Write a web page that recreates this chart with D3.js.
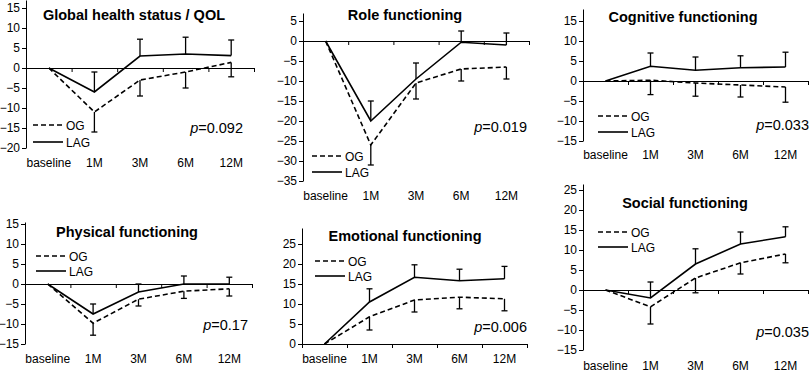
<!DOCTYPE html>
<html>
<head>
<meta charset="utf-8">
<script src="https://cdn.jsdelivr.net/npm/d3@7"></script>
<style>
body { margin: 0; background: #fff; }
text { font-family: "Liberation Sans", Arial, sans-serif; fill: #000; }
</style>
</head>
<body>
<svg id="chart" width="812" height="373"></svg>
<script>
var categories = ["baseline", "1M", "3M", "6M", "12M"];
var seriesNames = ["OG", "LAG"];

// Global health status / QOL
var globalOG = [0, -11, -3, -1, 1.4];
var globalOGLow = [null, -16, -7, -5, -2.2];
var globalLAG = [0, -6, 3, 3.5, 3.1];
var globalLAGHigh = [null, -1, 7.2, 7.7, 7];
var globalTicks = [-20, -15, -10, -5, 0, 5, 10, 15];

// Role functioning
var roleOG = [0, -26, -10.5, -7, -6.5];
var roleOGLow = [null, -31, -14.5, -10, -9.5];
var roleLAG = [0, -20, -9.5, -0.3, -1];
var roleLAGHigh = [null, -15, -5.5, 2.5, 2];
var roleTicks = [-35, -30, -25, -20, -15, -10, -5, 0, 5];

// Cognitive functioning
var cognOG = [0, 0.2, -0.5, -1, -1.5];
var cognOGLow = [null, -3.4, -3.8, -4, -5.3];
var cognLAG = [0, 3.7, 2.7, 3.3, 3.5];
var cognLAGHigh = [null, 7, 6, 6.3, 7.2];
var cognTicks = [-15, -10, -5, 0, 5, 10, 15];

// Physical functioning
var physOG = [0, -9.8, -3.8, -1.8, -1.2];
var physOGLow = [null, -12.8, -5.5, -3.6, -3];
var physLAG = [0, -7.5, -2, 0, 0];
var physLAGHigh = [null, -5, 0, 2, 1.7];
var physTicks = [-15, -10, -5, 0, 5, 10, 15];

// Emotional functioning
var emotOG = [0, 6.8, 11, 11.7, 11.3];
var emotOGLow = [null, 3.5, 8, 8.8, 8.3];
var emotLAG = [0, 10.5, 16.7, 15.8, 16.3];
var emotLAGHigh = [null, 13.8, 19.8, 18.7, 19.4];
var emotTicks = [0, 5, 10, 15, 20, 25];

// Social functioning
var socOG = [0, -4.2, 3, 6.8, 9];
var socOGLow = [null, -8.5, -0.7, 4, 6.8];
var socLAG = [0, -2, 6.5, 11.5, 13.3];
var socLAGHigh = [null, 2, 10.3, 14.5, 15.8];
var socTicks = [-15, -10, -5, 0, 5, 10, 15, 20, 25];

var panels = [
	{title: "Global health status / QOL", p: "0.092", og: globalOG, ogLow: globalOGLow, lag: globalLAG, lagHigh: globalLAGHigh, ticks: globalTicks,
		box: {left: 26, right: 254, zero: 68, labelY: 164, yMin: -20, yTop: 17, titleX: 134, titleY: 15, legX: 33, legY: [125, 142], pX: 243, pY: 128}},
	{title: "Role functioning", p: "0.019", og: roleOG, ogLow: roleOGLow, lag: roleLAG, lagHigh: roleLAGHigh, ticks: roleTicks,
		box: {left: 303, right: 529, zero: 41, labelY: 197, yMin: -35, yTop: 7, titleX: 405, titleY: 15, legX: 312, legY: [156, 172], pX: 527, pY: 127}},
	{title: "Cognitive functioning", p: "0.033", og: cognOG, ogLow: cognOGLow, lag: cognLAG, lagHigh: cognLAGHigh, ticks: cognTicks,
		box: {left: 583, right: 808, zero: 81, labelY: 156, yMin: -15, yTop: 18, titleX: 683, titleY: 17, legX: 598, legY: [116, 132], pX: 809, pY: 125}},
	{title: "Physical functioning", p: "0.17", og: physOG, ogLow: physOGLow, lag: physLAG, lagHigh: physLAGHigh, ticks: physTicks,
		box: {left: 25, right: 252, zero: 284, labelY: 360, yMin: -15, yTop: 15.5, titleX: 127, titleY: 232, legX: 36, legY: [256, 271], pX: 248, pY: 325}},
	{title: "Emotional functioning", p: "0.006", og: emotOG, ogLow: emotOGLow, lag: emotLAG, lagHigh: emotLAGHigh, ticks: emotTicks,
		box: {left: 302, right: 527, zero: 344, labelY: 360, yMin: 0, yTop: 29, titleX: 405, titleY: 236, legX: 315, legY: [261, 276], pX: 527, pY: 327}},
	{title: "Social functioning", p: "0.035", og: socOG, ogLow: socOGLow, lag: socLAG, lagHigh: socLAGHigh, ticks: socTicks,
		box: {left: 583, right: 808, zero: 290, labelY: 367, yMin: -15, yTop: 26.5, titleX: 685, titleY: 203, legX: 598, legY: [232, 247], pX: 809, pY: 332}}
];

var svg = d3.select("#chart");
var pxPerUnit = 4;
var dash = "5,3";

function drawPanel(d){
	var b = d.box;
	var g = svg.append("g").attr("class", "panel");

	var x = d3.scaleBand().domain(categories).range([b.left, b.right]).padding(0);
	var y = d3.scaleLinear()
		.domain([b.yMin, b.yTop])
		.range([b.zero - b.yMin * pxPerUnit, b.zero - b.yTop * pxPerUnit]);
	var xi = d3.scaleLinear().domain([0, categories.length]).range([b.left, b.right]);

	// y axis
	var ya = g.append("g")
		.attr("transform", "translate(" + b.left + ",0)")
		.call(d3.axisLeft(y).tickValues(d.ticks).tickSize(4).tickSizeOuter(0).tickPadding(2));
	ya.selectAll("text").attr("font-size", "12px").attr("font-family", "Liberation Sans, Arial, sans-serif");

	// zero line with ticks between categories
	g.append("g")
		.attr("transform", "translate(0," + y(0) + ")")
		.call(d3.axisBottom(xi).ticks(categories.length).tickSize(4).tickSizeOuter(0).tickFormat(""));

	// category labels
	var xa = g.append("g")
		.attr("transform", "translate(0," + (b.labelY - 6) + ")")
		.call(d3.axisBottom(x).tickSize(0).tickPadding(0));
	xa.select(".domain").remove();
	xa.selectAll("text").attr("font-size", "12px").attr("font-family", "Liberation Sans, Arial, sans-serif");

	g.selectAll("path, line").attr("stroke", "#000");

	var cx = function(i){ return x(categories[i]) + x.bandwidth() / 2; };
	var line = d3.line().x(function(v, i){ return cx(i); }).y(function(v){ return y(v); });

	// error bars: OG downward, LAG upward
	var bars = [];
	d.og.forEach(function(v, i){ if(d.ogLow[i] !== null) bars.push({i: i, from: v, to: d.ogLow[i]}); });
	d.lag.forEach(function(v, i){ if(d.lagHigh[i] !== null) bars.push({i: i, from: v, to: d.lagHigh[i]}); });
	var eb = g.selectAll("g.err").data(bars).enter().append("g").attr("class", "err")
		.attr("stroke", "#000").attr("stroke-width", 1.3);
	eb.append("line")
		.attr("x1", function(e){ return cx(e.i); }).attr("x2", function(e){ return cx(e.i); })
		.attr("y1", function(e){ return y(e.from); }).attr("y2", function(e){ return y(e.to); });
	eb.append("line")
		.attr("x1", function(e){ return cx(e.i) - 3; }).attr("x2", function(e){ return cx(e.i) + 3; })
		.attr("y1", function(e){ return y(e.to); }).attr("y2", function(e){ return y(e.to); });

	g.append("path").datum(d.og).attr("d", line)
		.attr("fill", "none").attr("stroke", "#000").attr("stroke-width", 1.6).attr("stroke-dasharray", dash);
	g.append("path").datum(d.lag).attr("d", line)
		.attr("fill", "none").attr("stroke", "#000").attr("stroke-width", 1.6);

	// title
	g.append("text")
		.attr("x", b.titleX).attr("y", b.titleY + 5)
		.attr("text-anchor", "middle")
		.attr("font-size", "14.5px").attr("font-weight", "bold")
		.text(d.title);

	// legend
	seriesNames.forEach(function(name, k){
		var ly = b.legY[k];
		g.append("line")
			.attr("x1", b.legX).attr("x2", b.legX + 30)
			.attr("y1", ly).attr("y2", ly)
			.attr("stroke", "#000").attr("stroke-width", 1.6)
			.attr("stroke-dasharray", k === 0 ? dash : null);
		g.append("text")
			.attr("x", b.legX + 33).attr("y", ly + 4.5)
			.attr("font-size", "12px")
			.text(name);
	});

	// p value
	var pt = g.append("text")
		.attr("x", b.pX).attr("y", b.pY + 5)
		.attr("text-anchor", "end")
		.attr("font-size", "14.5px");
	pt.append("tspan").attr("font-style", "italic").text("p");
	pt.append("tspan").text("=" + d.p);
}

panels.forEach(drawPanel);
</script>
</body>
</html>
